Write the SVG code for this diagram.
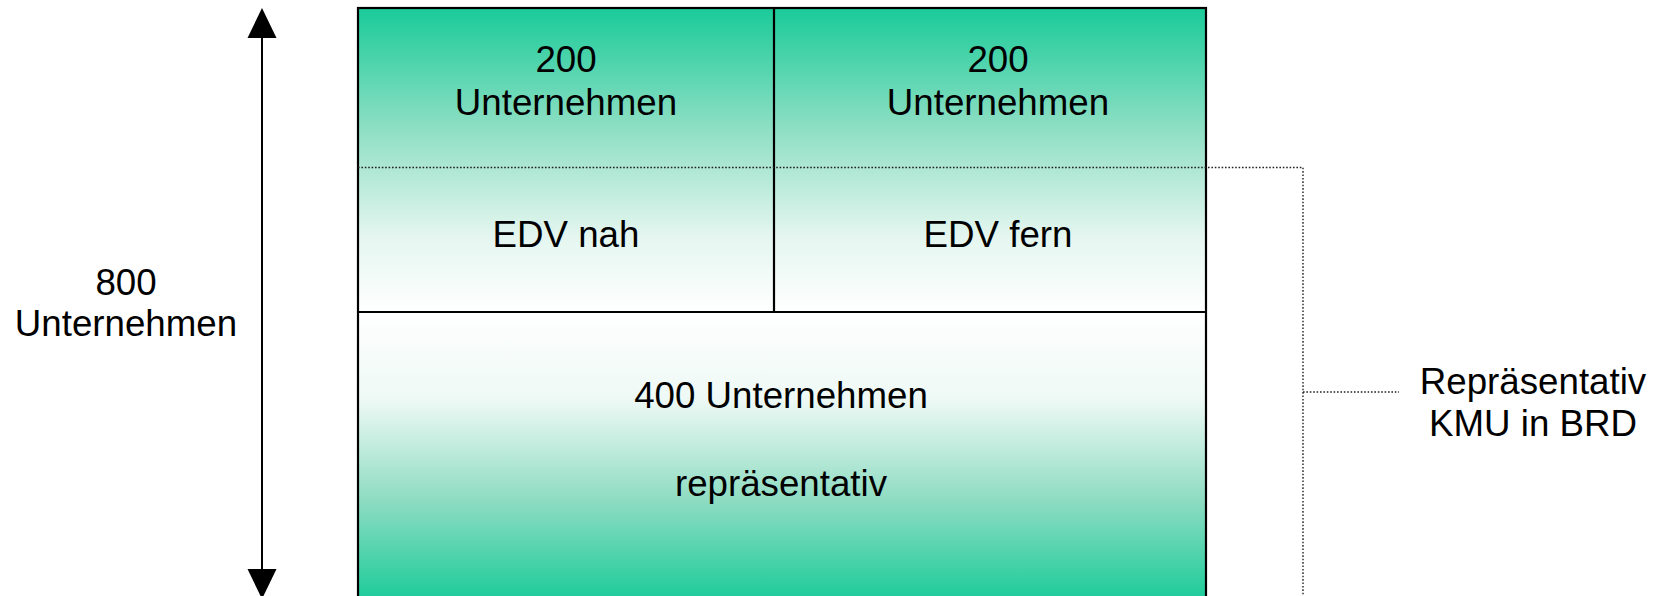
<svg xmlns="http://www.w3.org/2000/svg" width="1666" height="596" viewBox="0 0 1666 596">
<style>
text{font-family:"Liberation Sans",Arial,sans-serif;font-size:36.7px;fill:#000;text-anchor:middle}
.border{fill:none;stroke:#000;stroke-width:2.2}
.dot{fill:none;stroke:#222;stroke-width:1.4;stroke-dasharray:1.6 1.8}
</style>
<defs>
<linearGradient id="gTop" x1="0" y1="0" x2="0" y2="1">
<stop offset="0" stop-color="#1ACB99"/>
<stop offset="0.4" stop-color="#8fdfc4"/>
<stop offset="0.75" stop-color="#e4f6ef"/>
<stop offset="1" stop-color="#ffffff"/>
</linearGradient>
<linearGradient id="gBot" x1="0" y1="0" x2="0" y2="1">
<stop offset="0" stop-color="#ffffff"/>
<stop offset="0.3" stop-color="#eef9f5"/>
<stop offset="0.65" stop-color="#8edcc2"/>
<stop offset="1" stop-color="#1ACB99"/>
</linearGradient>
</defs>
<rect width="1666" height="596" fill="#fff"/>
<g id="upper">
<rect x="358" y="8" width="848" height="304" fill="url(#gTop)"/>
</g>
<g id="lower">
<rect x="358" y="312" width="848" height="290" fill="url(#gBot)"/>
</g>
<g id="borders">
<rect class="border" x="358" y="8" width="848" height="600"/>
<line class="border" x1="774" y1="8" x2="774" y2="312"/>
<line class="border" x1="358" y1="312" x2="1206" y2="312"/>
</g>
<g id="connectors">
<polyline class="dot" points="358,167.5 1303,167.5 1303,600"/>
<line class="dot" x1="1303" y1="392" x2="1399" y2="392"/>
<line x1="262" y1="36" x2="262" y2="571" stroke="#000" stroke-width="2"/>
<polygon points="262,8 247.5,38 276.5,38" fill="#000"/>
<polygon points="262,599 247.5,569 276.5,569" fill="#000"/>
</g>
<g id="cell-left">
<text x="566" y="72">200</text>
<text x="566" y="115">Unternehmen</text>
<text x="566" y="247">EDV nah</text>
</g>
<g id="cell-right">
<text x="998" y="72">200</text>
<text x="998" y="115">Unternehmen</text>
<text x="998" y="247">EDV fern</text>
</g>
<g id="cell-bottom">
<text x="781" y="408">400 Unternehmen</text>
<text x="781" y="496">repräsentativ</text>
</g>
<g id="label-left">
<text x="126" y="295">800</text>
<text x="126" y="336">Unternehmen</text>
</g>
<g id="label-right">
<text x="1533" y="394">Repräsentativ</text>
<text x="1533" y="436">KMU in BRD</text>
</g>
</svg>
